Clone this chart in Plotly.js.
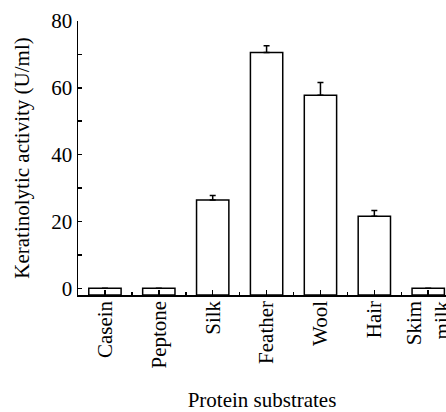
<!DOCTYPE html>
<html>
<head>
<meta charset="utf-8">
<script src="https://cdn.plot.ly/plotly-3.0.1.min.js"></script>
<style>html,body{margin:0;padding:0;background:#fff;}#chart{width:446px;height:412px;}</style>
</head>
<body>
<div id="chart"></div>
<script>
var categories = ["Casein", "Peptone", "Silk", "Feather", "Wool", "Hair", "Skim<br>milk"];
var activity = [0, 0, 26.4, 70.6, 57.8, 21.6, 0];
var errorPlus = [0, 0, 1.4, 2.0, 3.8, 1.7, 0];
var yTicks = [0, 20, 40, 60, 80];

var axisFloor = -2;
var xIdx = categories.map(function (_, i) { return i; });

var trace = {
  type: 'bar',
  x: xIdx,
  y: activity.map(function (v) { return v - axisFloor; }),
  base: axisFloor,
  width: 0.6,
  marker: { color: '#ffffff', line: { color: '#000000', width: 1.5 } },
  error_y: {
    type: 'data', symmetric: false,
    array: errorPlus.map(function (e) { return e > 0 ? e : null; }),
    arrayminus: errorPlus.map(function () { return 0; }),
    color: '#000000', thickness: 1.5, width: 3
  },
  hoverinfo: 'none'
};

function serif() { return { family: 'Liberation Serif', size: 21, color: '#000000' }; }

var layout = {
  width: 446, height: 412,
  margin: { l: 78, r: 0, t: 21, b: 117 },
  paper_bgcolor: '#fff', plot_bgcolor: '#fff',
  showlegend: false,
  font: serif(),
  xaxis: {
    range: [-0.5, 6.33],
    tickmode: 'array', tickvals: xIdx, ticktext: categories,
    tickangle: -90,
    ticklabeloverflow: 'allow',
    ticks: 'inside', ticklen: 5, tickwidth: 1.5, tickcolor: '#000',
    minor: { ticks: 'inside', ticklen: 3, tickwidth: 1.5, tickcolor: '#000', tick0: 0.5, dtick: 1 },
    showline: true, linecolor: '#000', linewidth: 1.5,
    showgrid: false, zeroline: false,
    ticklabelstandoff: -4,
    tickfont: serif(),
    title: { text: 'Protein substrates', font: serif(), standoff: 28 },
    automargin: false
  },
  yaxis: {
    range: [axisFloor, 80],
    tickmode: 'array', tickvals: yTicks,
    ticks: 'inside', ticklen: 4, tickwidth: 1.5, tickcolor: '#000',
    minor: { ticks: 'inside', ticklen: 4, tickwidth: 1.5, tickcolor: '#000', tick0: 10, dtick: 20 },
    showline: true, linecolor: '#000', linewidth: 1.5,
    showgrid: false, zeroline: false,
    tickfont: serif(),
    title: { text: 'Keratinolytic activity (U/ml)', font: serif(), standoff: 16 },
    automargin: false
  }
};

Plotly.newPlot('chart', [trace], layout, { staticPlot: true, displayModeBar: false });
</script>
</body>
</html>
